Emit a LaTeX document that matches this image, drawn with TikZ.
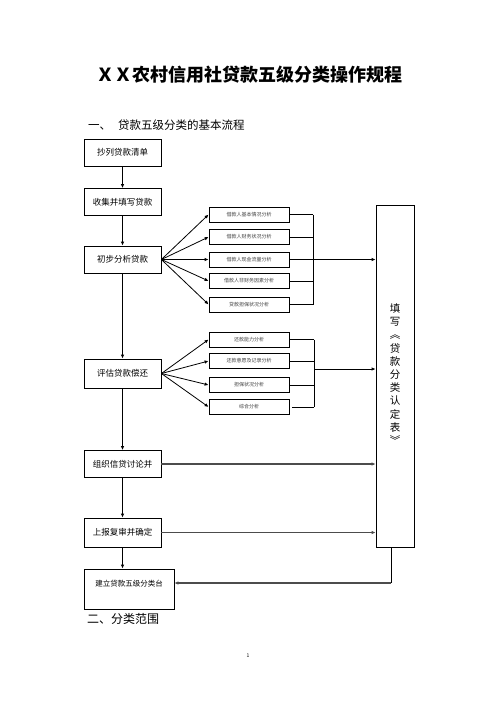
\documentclass[tikz,border=0pt]{standalone}
\usepackage{fontspec}
\setmainfont{Noto Sans CJK SC}
\usetikzlibrary{arrows.meta}
\tikzset{
  mainbox/.style={draw, line width=0.8pt, minimum width=77pt, inner sep=0pt, font=\fontsize{8.5}{10}\selectfont},
  smallbox/.style={draw, line width=0.8pt, minimum width=80pt, minimum height=15pt, inner sep=0pt, font=\fontsize{5}{6}\selectfont, text=black!75},
  conn/.style={line width=0.8pt, -{Latex[length=4pt,width=3.5pt]}},
  plain/.style={line width=0.8pt},
  grayconn/.style={line width=1.1pt, draw=black!70, -{Latex[length=4pt,width=3.5pt]}}
}
\begin{document}
\begin{tikzpicture}[x=1pt,y=-1pt]
\useasboundingbox[fill=white] (0,0) rectangle (496,702);
% titles
\node (title) at (249,75) {\bfseries\fontsize{18}{20}\selectfont ＸＸ农村信用社贷款五级分类操作规程};
\node[anchor=west, inner sep=0pt] (h1) at (88,125) {\fontsize{11.5}{13}\selectfont 一、\hspace{0.6em}贷款五级分类的基本流程};
\node[anchor=west, inner sep=0pt] (h2) at (87,619) {\fontsize{12}{14}\selectfont 二、分类范围};
\node (pg) at (248,656) {\fontsize{5}{6}\selectfont 1};
% main boxes
\node[mainbox, minimum height=27pt] (b1) at (122.5,152.5) {抄列贷款清单};
\node[mainbox, minimum height=27pt] (b2) at (122.5,202) {收集并填写贷款};
\node[mainbox, minimum height=27pt] (b3) at (122.5,259.5) {初步分析贷款};
\node[mainbox, minimum height=29pt] (b4) at (122.5,373.5) {评估贷款偿还};
\node[mainbox, minimum height=27pt] (b5) at (122.5,464) {组织信贷讨论并};
\node[mainbox, minimum height=29pt] (b6) at (122.5,532.5) {上报复审并确定};
\node[draw, line width=0.8pt, minimum width=90pt, minimum height=40pt, inner sep=0pt] (b7) at (129,589) {};
\node[font=\fontsize{7.5}{9}\selectfont] (b7t) at (129,584) {建立贷款五级分类台};
% big box
\node[draw, line width=0.8pt, minimum width=38pt, minimum height=342pt, inner sep=0pt] (big) at (395,376) {};
\node[align=center, inner sep=0pt, font=\fontsize{10.5}{13.2}\selectfont] (bigt) at (395,374)
  {填\\写\\︽\\贷\\款\\分\\类\\认\\定\\表\\︾};
% group 1 small boxes
\node[smallbox] (s1) at (249,214.5) {\raisebox{-3pt}{借款人基本情况分析}};
\node[smallbox] (s2) at (249,237) {\raisebox{-3pt}{借款人财务状况分析}};
\node[smallbox] (s3) at (249,259.5) {\raisebox{-3pt}{借款人现金流量分析}};
\node[smallbox] (s4) at (249,281) {\raisebox{-3pt}{借款人非财务因素分析}};
\node[smallbox] (s5) at (249,304.5) {\raisebox{-3pt}{贷款担保状况分析}};
% group 2 small boxes
\node[smallbox] (t1) at (249,339.5) {\raisebox{-3pt}{还款能力分析}};
\node[smallbox] (t2) at (249,361) {\raisebox{-3pt}{还款意愿及记录分析}};
\node[smallbox] (t3) at (249,385) {\raisebox{-3pt}{担保状况分析}};
\node[smallbox] (t4) at (249,407) {\raisebox{-3pt}{综合分析}};
% main flow
\draw[conn] (b1) -- (b2);
\draw[conn] (b2) -- (b3);
\draw[conn] (b3) -- (b4);
\draw[conn] (b4) -- (b5);
\draw[conn] (b5) -- (b6);
\draw[conn] (b6) -- (b6 |- b7.north);
% fans
\foreach \s in {s1,s2,s3,s4,s5} \draw[conn] (b3.east) -- (\s.west);
\foreach \s in {t1,t2,t3,t4} \draw[conn] (b4.east) -- (\s.west);
% bracket 1
\coordinate (k1top) at (313,214.5);
\coordinate (k1bot) at (313,304.5);
\draw[plain] (k1top) -- (k1bot);
\foreach \s in {s1,s2,s4,s5} \draw[plain] (\s.east) -- (\s.east -| k1top);
\draw[conn] (s3.east) -- (s3.east -| big.west);
% bracket 2
\coordinate (k2top) at (314,339.5);
\coordinate (k2bot) at (314,407);
\coordinate (t4r) at (292,407);
\coordinate (k2out) at (314,369);
\draw[plain] (k2top) -- (k2bot);
\foreach \s in {t1,t2,t3} \draw[plain] (\s.east) -- (\s.east -| k2top);
\draw[plain] (t4r) -- (k2bot);
\draw[conn] (k2out) -- (k2out -| big.west);
% later steps to big box
\draw[grayconn] (b5.east) -- (b5.east -| big.west);
\draw[grayconn] (b6.east) -- (b6.east -| big.west);
% big box back to b7
\coordinate (bigb) at (391,547);
\coordinate (corner) at (391,583);
\draw[plain] (bigb) -- (corner);
\draw[grayconn] (corner) -- (corner -| b7.east);
\end{tikzpicture}
\end{document}
